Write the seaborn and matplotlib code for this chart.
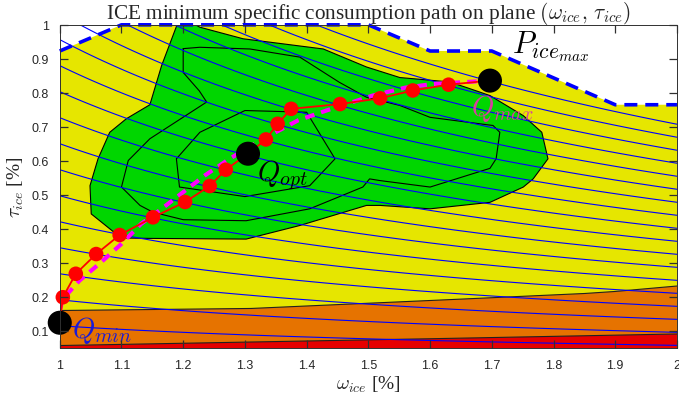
import numpy as np
import pandas as pd
import matplotlib
matplotlib.use("Agg")
import matplotlib.pyplot as plt
import seaborn as sns

# ---------------- data ----------------
iso_levels = [0.115 + 0.0765 * k for k in range(18)]  # iso-power levels (omega*tau)

pmax_w = [1.0, 1.1, 1.5, 1.6, 1.7, 1.9, 2.0]
pmax_t = [0.923, 1.0, 1.0, 0.923, 0.923, 0.765, 0.765]

orange_top_w = [1.0, 1.31, 1.632, 1.85, 1.9, 2.0]
orange_top_t = [0.160, 0.166, 0.192, 0.210, 0.216, 0.232]

red_top_w = [1.0, 1.63, 2.0]
red_top_t = [0.057, 0.078, 0.091]

green_w = [1.19, 1.165, 1.146, 1.108, 1.081, 1.062, 1.049, 1.051, 1.086, 1.108, 1.146,
           1.302, 1.389, 1.497, 1.519, 1.6, 1.697, 1.751, 1.767, 1.791, 1.781, 1.751,
           1.697, 1.66, 1.632, 1.551, 1.497, 1.427, 1.297, 1.227, 1.22]
green_t = [1.0, 0.88, 0.765, 0.724, 0.684, 0.606, 0.527, 0.444, 0.393, 0.373, 0.372,
           0.37, 0.41, 0.469, 0.469, 0.459, 0.478, 0.523, 0.547, 0.606, 0.684, 0.733,
           0.792, 0.815, 0.832, 0.845, 0.876, 0.929, 0.959, 0.993, 1.0]

mid_w = [1.2, 1.227, 1.308, 1.389, 1.453, 1.497, 1.551, 1.6, 1.702, 1.713, 1.707, 1.697,
         1.6, 1.519, 1.502, 1.491, 1.405, 1.302, 1.2, 1.151, 1.13, 1.1, 1.111, 1.146,
         1.238, 1.226, 1.2, 1.2]
mid_t = [0.93, 0.934, 0.929, 0.905, 0.831, 0.787, 0.763, 0.728, 0.704, 0.684, 0.606, 0.578,
         0.523, 0.542, 0.547, 0.523, 0.459, 0.424, 0.427, 0.449, 0.469, 0.523, 0.601, 0.665,
         0.773, 0.806, 0.86, 0.93]

inner_w = [1.189, 1.227, 1.3, 1.4, 1.446, 1.405, 1.3, 1.194, 1.189]
inner_t = [0.606, 0.684, 0.748, 0.743, 0.606, 0.527, 0.495, 0.523, 0.606]

path_w = [1.0, 1.005, 1.026, 1.059, 1.097, 1.151, 1.203, 1.243, 1.269, 1.305, 1.334,
          1.353, 1.375, 1.454, 1.519, 1.572, 1.63, 1.697]
path_t = [0.124, 0.199, 0.268, 0.326, 0.382, 0.434, 0.479, 0.526, 0.574, 0.621, 0.663,
          0.709, 0.753, 0.767, 0.784, 0.807, 0.824, 0.836]

dots_w = [1.005, 1.026, 1.059, 1.097, 1.151, 1.203, 1.243, 1.269, 1.334, 1.353, 1.375,
          1.454, 1.519, 1.572, 1.63]
dots_t = [0.199, 0.268, 0.326, 0.382, 0.434, 0.479, 0.526, 0.574, 0.663, 0.709, 0.753,
          0.767, 0.784, 0.807, 0.824]

approx_w = [1.0, 1.005, 1.032, 1.067, 1.1, 1.132, 1.165, 1.2, 1.235, 1.275, 1.33, 1.386,
            1.432, 1.507, 1.559, 1.604, 1.697]
approx_t = [0.16, 0.194, 0.248, 0.302, 0.356, 0.415, 0.459, 0.508, 0.557, 0.606, 0.665,
            0.719, 0.748, 0.792, 0.815, 0.826, 0.836]

q_names = ["Q_min", "Q_opt", "Q_max"]
q_w = [1.0, 1.305, 1.697]
q_t = [0.124, 0.621, 0.836]

xticks = [1.0, 1.1, 1.2, 1.3, 1.4, 1.5, 1.6, 1.7, 1.8, 1.9, 2.0]
xticklabels = ["1", "1.1", "1.2", "1.3", "1.4", "1.5", "1.6", "1.7", "1.8", "1.9", "2"]
yticks = [0.1, 0.2, 0.3, 0.4, 0.5, 0.6, 0.7, 0.8, 0.9, 1.0]
yticklabels = ["0.1", "0.2", "0.3", "0.4", "0.5", "0.6", "0.7", "0.8", "0.9", "1"]

# ---------------- style ----------------
sns.set_style("ticks")
plt.rcParams["font.family"] = ["Liberation Sans", "DejaVu Sans"]
plt.rcParams["mathtext.fontset"] = "cm"

YELLOW = "#e6e600"
GREEN = "#00d600"
ORANGE = "#e67300"
RED = "#e60000"
BLUE = "#0000ff"

fig = plt.figure(figsize=(6.79, 4.10), dpi=100)
ax = fig.add_axes([0.088, 0.149, 0.909, 0.788])
ax.set_xlim(1.0, 2.0)
ax.set_ylim(0.05, 1.0)

# yellow: everything below the Pmax boundary
ax.fill(pmax_w + [2.0, 1.0], pmax_t + [0.0, 0.0], color=YELLOW, lw=0, zorder=1)
# orange band
ax.fill(orange_top_w + red_top_w[::-1], orange_top_t + red_top_t[::-1], color=ORANGE, lw=0, zorder=2)
# red band
ax.fill(red_top_w + [2.0, 1.0], red_top_t + [0.0, 0.0], color=RED, lw=0, zorder=2)
# green efficiency region
ax.fill(green_w, green_t, facecolor=GREEN, edgecolor="black", lw=0.8, zorder=2)

# contour borders
ax.plot(orange_top_w, orange_top_t, color="#202020", lw=0.8, zorder=3)
ax.plot(red_top_w, red_top_t, color="#202020", lw=0.8, zorder=3)
ax.plot(mid_w, mid_t, color="black", lw=0.8, zorder=3)
ax.plot(inner_w, inner_t, color="black", lw=0.8, zorder=3)

# iso-power lines
wgrid = np.linspace(1.0, 2.0, 101)
iso_df = pd.DataFrame({
    "w": np.tile(wgrid, len(iso_levels)),
    "t": np.concatenate([c / wgrid for c in iso_levels]),
    "level": np.repeat(np.arange(len(iso_levels)), len(wgrid)),
})
sns.lineplot(data=iso_df, x="w", y="t", units="level", estimator=None, sort=False,
             color=BLUE, lw=0.8, ax=ax, legend=False, zorder=4)

# Pmax boundary
ax.plot(pmax_w, pmax_t, color=BLUE, lw=2.6, ls=(0, (3.6, 2.2)), zorder=5, clip_on=False)

# approx path (magenta dashed)
ax.plot(approx_w, approx_t, color="#ff00ff", lw=3, ls=(0, (2.3, 1.7)), zorder=6)

# optimal path (red)
path_df = pd.DataFrame({"w": path_w, "t": path_t})
sns.lineplot(data=path_df, x="w", y="t", sort=False, estimator=None, color="#ff0000",
             lw=1.3, ax=ax, zorder=7)
dots_df = pd.DataFrame({"w": dots_w, "t": dots_t})
sns.scatterplot(data=dots_df, x="w", y="t", color="#ff0000", s=110, edgecolor="none",
                ax=ax, zorder=8, clip_on=False)
q_df = pd.DataFrame({"w": q_w, "t": q_t, "name": q_names})
sns.scatterplot(data=q_df, x="w", y="t", color="black", s=300, edgecolor="none",
                ax=ax, zorder=9, clip_on=False)

# annotations
ax.text(1.732, 0.938, r"$P_{ice_{max}}$", fontsize=22, color="black", va="center", zorder=10)
ax.text(1.667, 0.757, r"$Q_{max}$", fontsize=20.5, color="#d63fa0", va="center", zorder=10)
ax.text(1.320, 0.560, r"$Q_{opt}$", fontsize=20.5, color="black", va="center", zorder=10)
ax.text(1.020, 0.104, r"$Q_{min}$", fontsize=20.5, color="#1a1ad6", va="center", zorder=10)

# axes formatting
ax.set_xticks(xticks)
ax.set_xticklabels(xticklabels)
ax.set_yticks(yticks)
ax.set_yticklabels(yticklabels)
ax.tick_params(which="major", direction="in", top=True, right=True, bottom=True, left=True,
               length=5.5, width=0.9, color="#303030", labelcolor="#262626",
               labelsize=9, pad=8)
ax.set_axisbelow(False)
ax.xaxis.set_zorder(12)
ax.yaxis.set_zorder(12)
for s in ax.spines.values():
    s.set_color("#303030")
    s.set_linewidth(0.7)
    s.set_zorder(11)
ax.set_xlabel(r"$\omega_{ice}$ [%]", fontsize=14, family="Liberation Serif", labelpad=2)
ax.set_ylabel(r"$\tau_{ice}$ [%]", fontsize=14, family="Liberation Serif", labelpad=4)
ax.set_title(r"ICE minimum specific consumption path on plane $(\omega_{ice},\, \tau_{ice})$",
             fontsize=15.3, family="Liberation Serif", pad=5)

fig.savefig("out.png", dpi=100)
